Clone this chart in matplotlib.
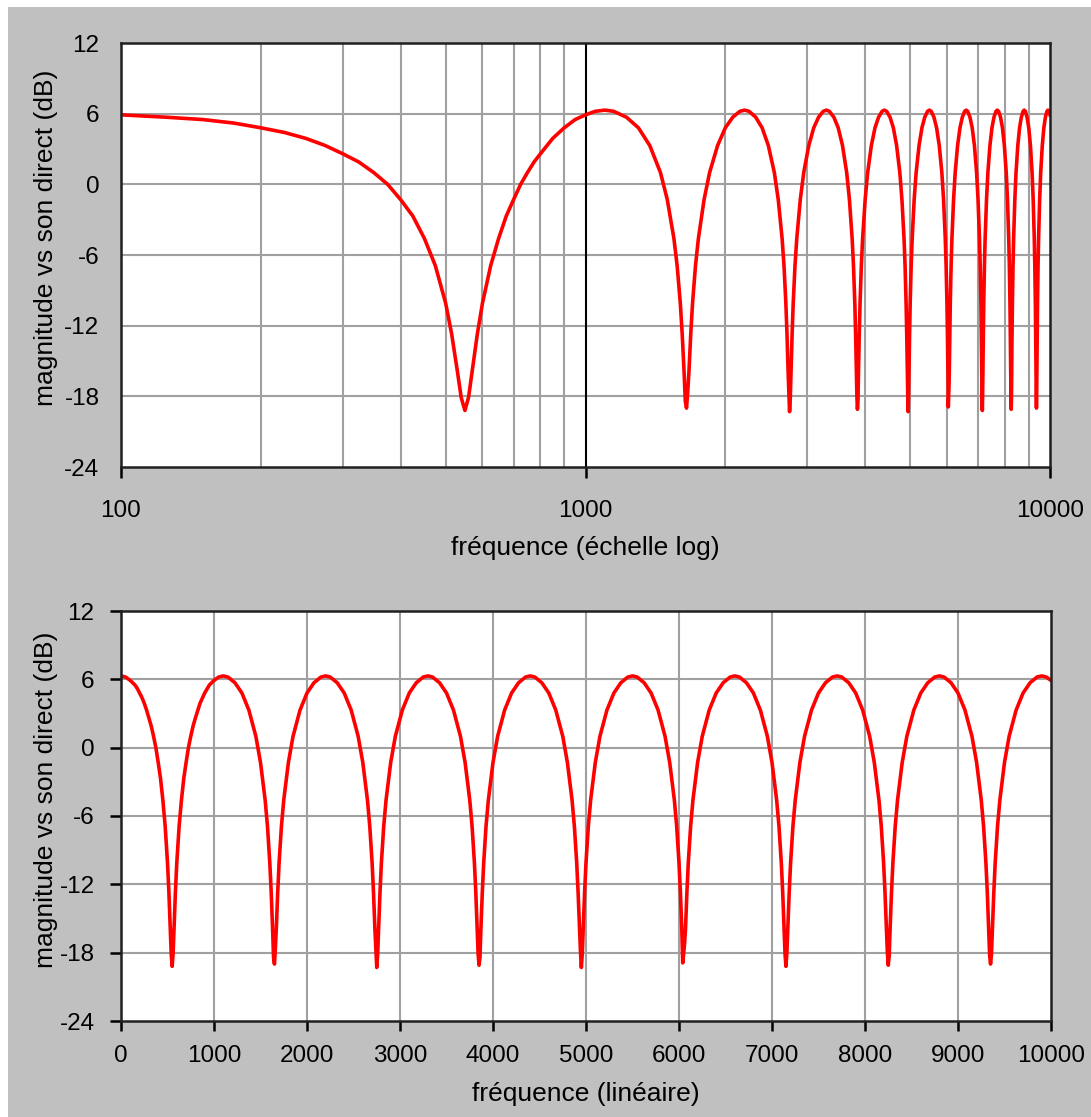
import matplotlib.pyplot as plt
from matplotlib.patches import Rectangle

plt.rcParams['font.family'] = ['Liberation Sans', 'DejaVu Sans']
plt.rcParams['axes.unicode_minus'] = False

# frequency samples (Hz), one row per arch of the comb
freq_hz = [
    0, 50, 100, 125, 150, 175, 200, 225, 250, 275, 300, 325, 350, 375, 400, 425, 450, 475, 500, 515, 530, 540,
    550, 560, 570, 585, 600, 625, 650, 675, 700, 725, 750, 775, 800, 850, 900, 950, 1000, 1050,
    1100, 1150, 1225, 1300, 1375, 1450, 1500, 1550, 1575, 1600, 1615, 1630, 1640,
    1650, 1660, 1670, 1685, 1700, 1725, 1750, 1800, 1850, 1925, 2000, 2075, 2150,
    2200, 2250, 2325, 2400, 2475, 2550, 2600, 2650, 2675, 2700, 2715, 2730, 2740,
    2750, 2760, 2770, 2785, 2800, 2825, 2850, 2900, 2950, 3025, 3100, 3175, 3250,
    3300, 3350, 3425, 3500, 3575, 3650, 3700, 3750, 3775, 3800, 3815, 3830, 3840,
    3850, 3860, 3870, 3885, 3900, 3925, 3950, 4000, 4050, 4125, 4200, 4275, 4350,
    4400, 4450, 4525, 4600, 4675, 4750, 4800, 4850, 4875, 4900, 4915, 4930, 4940,
    4950, 4960, 4970, 4985, 5000, 5025, 5050, 5100, 5150, 5225, 5300, 5375, 5450,
    5500, 5550, 5625, 5700, 5775, 5850, 5900, 5950, 5975, 6000, 6015, 6030, 6040,
    6050, 6060, 6070, 6085, 6100, 6125, 6150, 6200, 6250, 6325, 6400, 6475, 6550,
    6600, 6650, 6725, 6800, 6875, 6950, 7000, 7050, 7075, 7100, 7115, 7130, 7140,
    7150, 7160, 7170, 7185, 7200, 7225, 7250, 7300, 7350, 7425, 7500, 7575, 7650,
    7700, 7750, 7825, 7900, 7975, 8050, 8100, 8150, 8175, 8200, 8215, 8230, 8240,
    8250, 8260, 8270, 8285, 8300, 8325, 8350, 8400, 8450, 8525, 8600, 8675, 8750,
    8800, 8850, 8925, 9000, 9075, 9150, 9200, 9250, 9275, 9300, 9315, 9330, 9340,
    9350, 9360, 9370, 9385, 9400, 9425, 9450, 9500, 9550, 9625, 9700, 9775, 9850,
    9900, 9950, 10000,
]

# magnitude relative to direct sound (dB)
mag_db = [
    6.3, 6.2, 5.9, 5.7, 5.5, 5.2, 4.8, 4.4, 3.9, 3.3, 2.6, 1.9, 1.0, 0.0, -1.3, -2.7, -4.6, -6.9, -10.1, -12.7, -15.9, -18.1,
    -19.2, -18.1, -15.9, -12.7, -10.1, -6.9, -4.6, -2.7, -1.3, 0.0, 1.0, 1.9, 2.6, 3.9, 4.8, 5.5, 5.9, 6.2,
    6.3, 6.2, 5.7, 4.8, 3.3, 1.0, -1.3, -4.6, -6.9, -10.1, -12.7, -15.9, -18.4,
    -19.0, -17.6, -15.9, -12.7, -10.1, -6.9, -4.6, -1.3, 1.0, 3.3, 4.8, 5.7, 6.2,
    6.3, 6.2, 5.7, 4.8, 3.3, 1.0, -1.3, -4.6, -6.9, -10.1, -12.7, -15.9, -17.6,
    -19.3, -18.1, -15.9, -12.7, -10.1, -6.9, -4.6, -1.3, 1.0, 3.3, 4.8, 5.7, 6.2,
    6.3, 6.2, 5.7, 4.8, 3.3, 1.0, -1.3, -4.6, -6.9, -10.1, -12.7, -15.9, -18.1,
    -19.1, -18.4, -15.9, -12.7, -10.1, -6.9, -4.6, -1.3, 1.0, 3.3, 4.8, 5.7, 6.2,
    6.3, 6.2, 5.7, 4.8, 3.3, 1.0, -1.3, -4.6, -6.9, -10.1, -12.7, -15.9, -17.8,
    -19.3, -18.1, -15.9, -12.7, -10.1, -6.9, -4.6, -1.3, 1.0, 3.3, 4.8, 5.7, 6.2,
    6.3, 6.2, 5.7, 4.8, 3.3, 1.0, -1.3, -4.6, -6.9, -10.1, -12.7, -15.9, -18.9,
    -18.0, -17.2, -15.9, -12.7, -10.1, -6.9, -4.6, -1.3, 1.0, 3.3, 4.8, 5.7, 6.2,
    6.3, 6.2, 5.7, 4.8, 3.3, 1.0, -1.3, -4.6, -6.9, -10.1, -12.7, -15.9, -18.1,
    -19.2, -18.0, -15.9, -12.7, -10.1, -6.9, -4.6, -1.3, 1.0, 3.3, 4.8, 5.7, 6.2,
    6.3, 6.2, 5.7, 4.8, 3.3, 1.0, -1.3, -4.6, -6.9, -10.1, -12.7, -15.9, -17.9,
    -19.1, -18.3, -15.9, -12.7, -10.1, -6.9, -4.6, -1.3, 1.0, 3.3, 4.8, 5.7, 6.2,
    6.3, 6.2, 5.7, 4.8, 3.3, 1.0, -1.3, -4.6, -6.9, -10.1, -12.7, -15.9, -18.2,
    -19.0, -18.1, -15.9, -12.7, -10.1, -6.9, -4.6, -1.3, 1.0, 3.3, 4.8, 5.7, 6.2,
    6.3, 6.2, 5.9,
]

y_ticks = [-24, -18, -12, -6, 0, 6, 12]
log_major = [100, 1000, 10000]
log_minor = [200, 300, 400, 500, 600, 700, 800, 900,
             2000, 3000, 4000, 5000, 6000, 7000, 8000, 9000]
lin_ticks = [0, 1000, 2000, 3000, 4000, 5000, 6000, 7000, 8000, 9000, 10000]

RED = '#ff0000'
GRID = '#a0a0a0'
TICK_FS = 17.5
LABEL_FS = 19

fig = plt.figure(figsize=(10.91, 11.17), dpi=100)
fig.patch.set_facecolor('white')
fig.patches.append(Rectangle((8 / 1091, 0), 1, 1 - 7 / 1117, transform=fig.transFigure,
                             facecolor='#c0c0c0', edgecolor='none', zorder=-10))


def style_axes(ax, label_x):
    ax.set_facecolor('white')
    ax.set_ylim(-24, 12)
    ax.set_yticks(y_ticks)
    ax.grid(False)
    for y in y_ticks[1:-1]:
        ax.axhline(y, color=GRID, lw=1.5, zorder=1)
    for s in ax.spines.values():
        s.set_color('#202020')
        s.set_linewidth(1.8)
        s.set_zorder(4)
    ax.set_ylabel('magnitude vs son direct (dB)', fontsize=LABEL_FS)
    ax.yaxis.set_label_coords(label_x, 0.54)


# top: log scale
ax1 = fig.add_axes([121 / 1091, 1 - 467 / 1117, 929 / 1091, 424 / 1117])
ax1.set_xscale('log')
ax1.set_xlim(100, 10000)
style_axes(ax1, (58 - 121) / 929)
for x in log_minor:
    ax1.axvline(x, color=GRID, lw=1.5, zorder=1)
ax1.axvline(1000, color='black', lw=1.5, zorder=2)
ax1.plot(freq_hz, mag_db, color=RED, lw=2.6, zorder=3)
ax1.set_xticks(log_major)
ax1.set_xticklabels(['100', '1000', '10000'])
ax1.xaxis.set_minor_locator(plt.NullLocator())
ax1.tick_params(axis='x', direction='out', length=8, width=1.8, pad=16, labelsize=TICK_FS)
ax1.tick_params(axis='y', length=0, pad=15.5, labelsize=TICK_FS)
ax1.set_xlabel('fréquence (échelle log)', fontsize=LABEL_FS, labelpad=10)

# bottom: linear scale
ax2 = fig.add_axes([121 / 1091, 1 - 1021 / 1117, 930 / 1091, 410 / 1117])
ax2.set_xlim(0, 10000)
style_axes(ax2, (58 - 121) / 930)
for x in lin_ticks[1:-1]:
    ax2.axvline(x, color=GRID, lw=1.5, zorder=1)
ax2.plot(freq_hz, mag_db, color=RED, lw=2.6, zorder=3)
ax2.set_xticks(lin_ticks)
ax2.tick_params(axis='x', direction='out', length=7, width=1.8, pad=10, labelsize=TICK_FS)
ax2.tick_params(axis='y', direction='out', length=8, width=1.8, pad=11, labelsize=TICK_FS)
ax2.set_xlabel('fréquence (linéaire)', fontsize=LABEL_FS, labelpad=11)

fig.savefig('out.png', dpi=100, facecolor=fig.get_facecolor())
